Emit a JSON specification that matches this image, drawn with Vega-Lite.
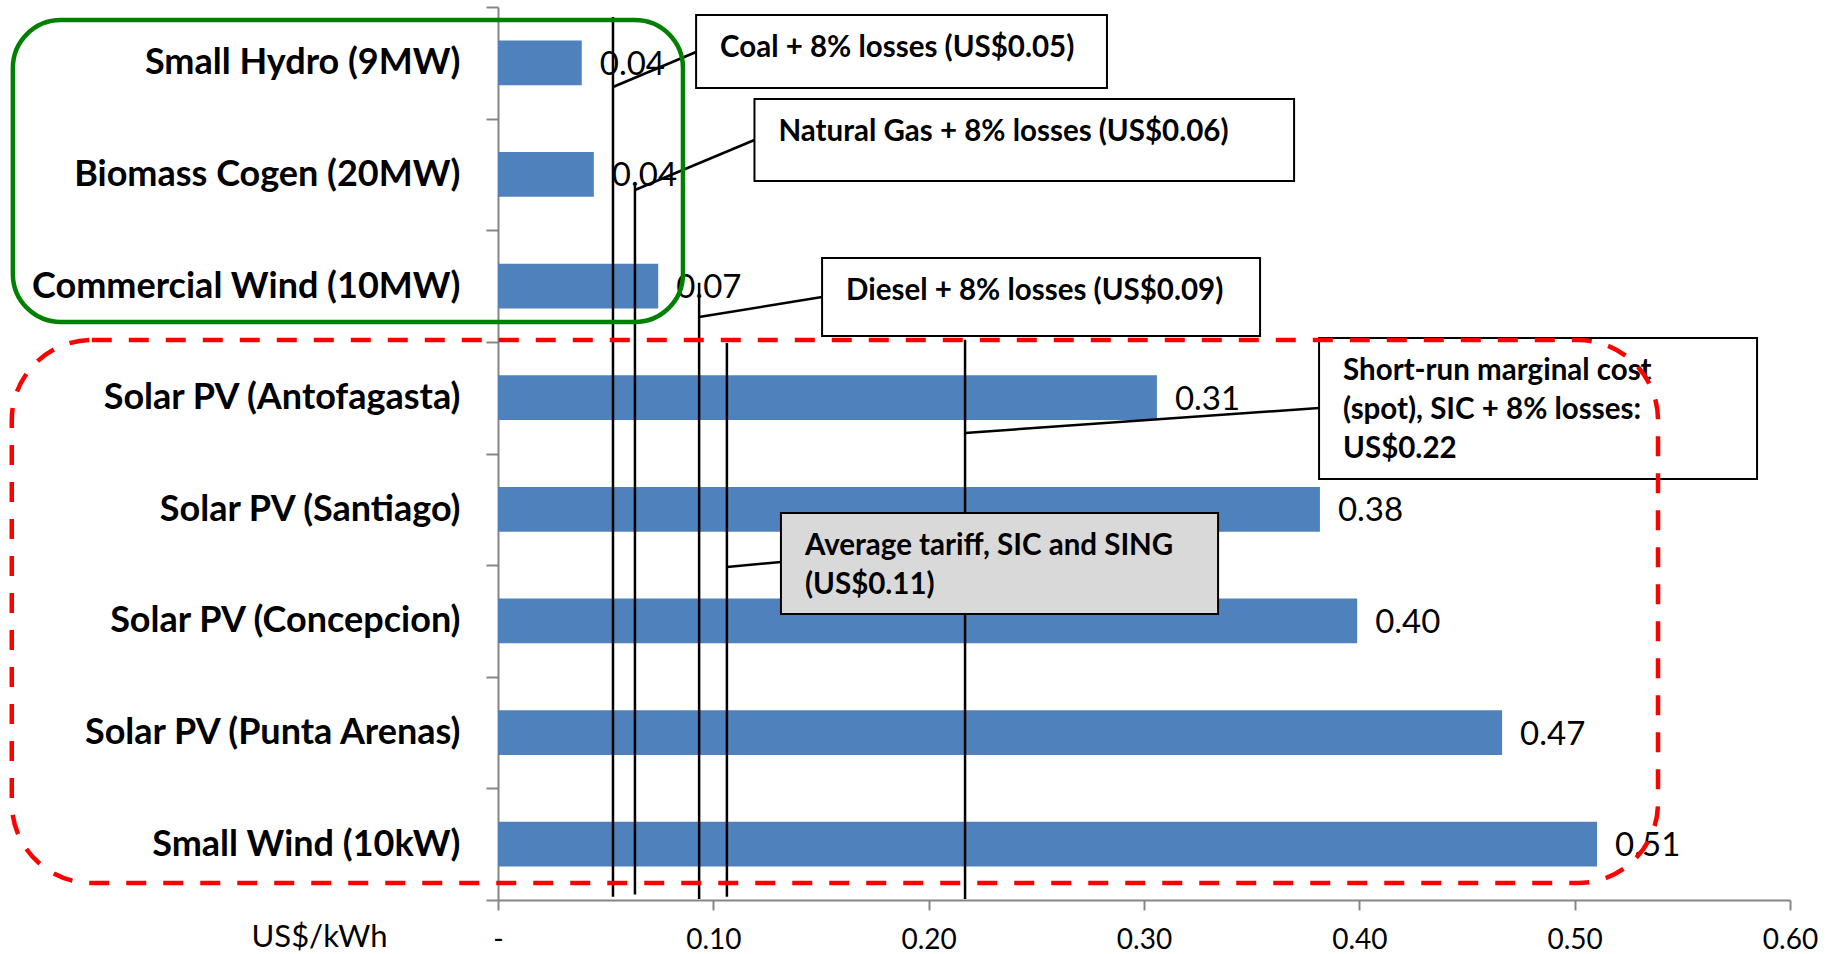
{
  "$schema": "https://vega.github.io/schema/vega-lite/v6.json",
  "width": 1292,
  "height": 893,
  "autosize": "none",
  "padding": {"left": 498, "top": 7, "right": 49, "bottom": 54},
  "background": "white",
  "config": {"view": {"stroke": null}, "font": "Lato"},
  "datasets": {
    "costs": [
      {"tech": "Small Hydro (9MW)", "cost": 0.0389},
      {"tech": "Biomass Cogen (20MW)", "cost": 0.0445},
      {"tech": "Commercial Wind (10MW)", "cost": 0.0744},
      {"tech": "Solar PV (Antofagasta)", "cost": 0.306},
      {"tech": "Solar PV (Santiago)", "cost": 0.3817},
      {"tech": "Solar PV (Concepcion)", "cost": 0.399},
      {"tech": "Solar PV (Punta Arenas)", "cost": 0.4663},
      {"tech": "Small Wind (10kW)", "cost": 0.5104}
    ],
    "benchmarks": [
      {"source": "Coal", "cost": 0.0534, "row_from": 0.09, "row_to": 7.97},
      {"source": "Natural Gas", "cost": 0.0636, "row_from": 1.6, "row_to": 7.95},
      {"source": "Diesel", "cost": 0.0934, "row_from": 2.47, "row_to": 7.99},
      {"source": "Average tariff", "cost": 0.1063, "row_from": 3.01, "row_to": 7.97},
      {"source": "Spot SIC", "cost": 0.2169, "row_from": 2.98, "row_to": 7.99}
    ],
    "leaders": [
      {"source": "Coal", "x": 0.0534, "row": 0.7167, "x2": 0.092, "row2": 0.4031},
      {"source": "Natural Gas", "x": 0.0636, "row": 1.6394, "x2": 0.1191, "row2": 1.1915},
      {"source": "Diesel", "x": 0.0934, "row": 2.7772, "x2": 0.1505, "row2": 2.598},
      {"source": "Spot SIC", "x": 0.2169, "row": 3.816, "x2": 0.3813, "row2": 3.5924},
      {"source": "Average tariff", "x": 0.1063, "row": 5.0168, "x2": 0.1314, "row2": 4.972}
    ],
    "notes": [
      {"kind": "fuel", "note": "Coal + 8% losses (US$0.05)", "x": 0.092, "x2": 0.2828, "row": 0.0717, "row2": 0.7256},
      {"kind": "fuel", "note": "Natural Gas + 8% losses (US$0.06)", "x": 0.1191, "x2": 0.3697, "row": 0.8242, "row2": 1.5588},
      {"kind": "fuel", "note": "Diesel + 8% losses (US$0.09)", "x": 0.1505, "x2": 0.3539, "row": 2.2486, "row2": 2.9474},
      {"kind": "fuel", "note": "Short-run marginal cost\n(spot), SIC + 8% losses:\nUS$0.22", "x": 0.3813, "x2": 0.5847, "row": 2.9653, "row2": 4.2285},
      {"kind": "tariff", "note": "Average tariff, SIC and SING\n(US$0.11)", "x": 0.1314, "x2": 0.3344, "row": 4.533, "row2": 5.4378}
    ]
  },
  "layer": [
    {
      "data": {"name": "costs"},
      "encoding": {
        "y": {
          "field": "tech",
          "type": "nominal",
          "sort": null,
          "scale": {"paddingInner": 0, "paddingOuter": 0},
          "axis": {
            "title": null,
            "tickBand": "extent",
            "domainColor": "#868686",
            "domainWidth": 2,
            "tickColor": "#868686",
            "tickWidth": 2,
            "tickSize": 12,
            "labelPadding": 26,
            "labelFont": "Lato",
            "labelFontSize": 36,
            "labelFontWeight": "bold",
            "labelColor": "black",
            "labelLimit": 600
          }
        },
        "x": {
          "field": "cost",
          "type": "quantitative",
          "scale": {"domain": [0, 0.6], "nice": false, "zero": false},
          "axis": {
            "title": "US$/kWh",
            "values": [0, 0.1, 0.2, 0.3, 0.4, 0.5, 0.6],
            "labelExpr": "datum.value == 0 ? '-' : format(datum.value, '.2f')",
            "grid": false,
            "domainColor": "#868686",
            "domainWidth": 2,
            "tickColor": "#868686",
            "tickWidth": 2,
            "tickSize": 10,
            "labelPadding": 38,
            "labelBaseline": "alphabetic",
            "labelFont": "Lato",
            "labelFontSize": 28,
            "labelColor": "black",
            "labelFlush": false,
            "titleFont": "Lato",
            "titleFontSize": 31,
            "titleFontWeight": "normal",
            "titleColor": "black",
            "titleAlign": "center",
            "titleBaseline": "alphabetic",
            "titleX": -179,
            "titleY": 46
          }
        }
      },
      "layer": [
        {"mark": {"type": "bar", "color": "#4F81BD", "height": {"band": 0.4}}},
        {
          "mark": {"type": "text", "align": "left", "baseline": "middle", "dx": 18, "dy": 2, "fontSize": 33, "font": "Lato", "color": "black"},
          "encoding": {"text": {"field": "cost", "type": "quantitative", "format": ".2f"}}
        }
      ]
    },
    {
      "layer": [
        {
          "data": {"name": "benchmarks"},
          "mark": {"type": "rule", "color": "black", "strokeWidth": 2.5},
          "encoding": {
            "x": {"field": "cost", "type": "quantitative", "scale": {"domain": [0, 0.6], "nice": false, "zero": false}, "axis": null},
            "y": {"field": "row_from", "type": "quantitative", "scale": {"domain": [0, 8], "reverse": true, "nice": false, "zero": false}, "axis": null},
            "y2": {"field": "row_to"}
          }
        },
        {
          "data": {"name": "leaders"},
          "mark": {"type": "rule", "color": "black", "strokeWidth": 2.5},
          "encoding": {
            "x": {"field": "x", "type": "quantitative", "scale": {"domain": [0, 0.6], "nice": false, "zero": false}, "axis": null},
            "x2": {"field": "x2"},
            "y": {"field": "row", "type": "quantitative", "scale": {"domain": [0, 8], "reverse": true, "nice": false, "zero": false}, "axis": null},
            "y2": {"field": "row2"}
          }
        },
        {
          "data": {"name": "notes"},
          "mark": {"type": "rect", "stroke": "black", "strokeWidth": 2},
          "encoding": {
            "x": {"field": "x", "type": "quantitative", "scale": {"domain": [0, 0.6], "nice": false, "zero": false}, "axis": null},
            "x2": {"field": "x2"},
            "y": {"field": "row", "type": "quantitative", "scale": {"domain": [0, 8], "reverse": true, "nice": false, "zero": false}, "axis": null},
            "y2": {"field": "row2"},
            "fill": {"field": "kind", "type": "nominal", "scale": {"domain": ["fuel", "tariff"], "range": ["white", "#D9D9D9"]}, "legend": null}
          }
        },
        {
          "data": {"name": "notes"},
          "mark": {"type": "text", "align": "left", "baseline": "alphabetic", "dx": 24, "dy": 42, "lineBreak": "\n", "lineHeight": 39, "font": "Lato", "fontSize": 29.5, "fontWeight": "bold", "color": "black"},
          "encoding": {
            "x": {"field": "x", "type": "quantitative", "scale": {"domain": [0, 0.6], "nice": false, "zero": false}, "axis": null},
            "y": {"field": "row", "type": "quantitative", "scale": {"domain": [0, 8], "reverse": true, "nice": false, "zero": false}, "axis": null},
            "text": {"field": "note", "type": "nominal"}
          }
        },
        {
          "data": {"values": [{"group": "Small-scale conventional", "x": -0.2253, "x2": 0.0859, "row": 0.1165, "row2": 2.8219}]},
          "mark": {"type": "rect", "fillOpacity": 0, "fill": "white", "stroke": "#008000", "strokeWidth": 4.5, "cornerRadius": 48},
          "encoding": {
            "x": {"field": "x", "type": "quantitative", "scale": {"domain": [0, 0.6], "nice": false, "zero": false}, "axis": null},
            "x2": {"field": "x2"},
            "y": {"field": "row", "type": "quantitative", "scale": {"domain": [0, 8], "reverse": true, "nice": false, "zero": false}, "axis": null},
            "y2": {"field": "row2"}
          }
        },
        {
          "data": {"values": [{"group": "Solar PV and small wind", "x": -0.2258, "x2": 0.5387, "row": 2.9832, "row2": 7.8477}]},
          "mark": {"type": "rect", "fillOpacity": 0, "fill": "white", "stroke": "#FF0000", "strokeWidth": 4.5, "strokeDash": [20, 17], "cornerRadius": 80},
          "encoding": {
            "x": {"field": "x", "type": "quantitative", "scale": {"domain": [0, 0.6], "nice": false, "zero": false}, "axis": null},
            "x2": {"field": "x2"},
            "y": {"field": "row", "type": "quantitative", "scale": {"domain": [0, 8], "reverse": true, "nice": false, "zero": false}, "axis": null},
            "y2": {"field": "row2"}
          }
        }
      ]
    }
  ],
  "resolve": {"scale": {"y": "independent"}, "axis": {"x": "independent"}}
}
